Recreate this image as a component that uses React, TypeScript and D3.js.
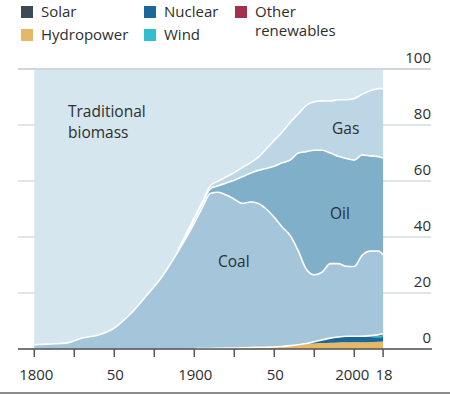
import React from "react";
import * as d3 from "d3";

const years = [1800,1810,1820,1830,1840,1850,1860,1870,1880,1890,1900,1905,1910,1915,1920,1925,1930,1935,1940,1945,1950,1955,1960,1965,1970,1975,1980,1985,1990,1995,2000,2005,2010,2015,2018];

const hydro = [0,0,0,0,0,0,0,0,0,0,0.1,0.15,0.2,0.25,0.3,0.35,0.4,0.5,0.6,0.65,0.7,0.9,1.2,1.5,1.8,2.0,2.1,2.2,2.3,2.4,2.4,2.4,2.5,2.6,2.7];
const nuclear = [0,0,0,0,0,0,0,0,0,0,0,0,0,0,0,0,0,0,0,0,0,0,0,0.02,0.15,0.6,1.1,1.6,1.9,2.0,2.0,1.9,1.8,1.6,1.6];
const wind = [0,0,0,0,0,0,0,0,0,0,0,0,0,0,0,0,0,0,0,0,0,0,0,0,0,0,0,0,0,0.01,0.03,0.08,0.25,0.5,0.65];
const solar = [0,0,0,0,0,0,0,0,0,0,0,0,0,0,0,0,0,0,0,0,0,0,0,0,0,0,0,0,0,0,0,0.005,0.04,0.2,0.3];
const other = [0,0,0,0,0,0,0,0,0,0,0,0,0,0,0,0,0,0,0,0,0,0,0,0,0,0,0.05,0.08,0.1,0.12,0.13,0.15,0.18,0.2,0.2];
const coal = [1.5,1.8,2.1,3.9,5.0,7.5,12.5,19,26,35,44.9,50.35,55.3,55.75,54.7,53.15,51.6,52.0,51.4,49.35,46.3,42.6,39.3,33.5,26.55,23.9,24.25,26.6,26.2,25.0,24.9,29.0,30.2,29.9,28.15];
const oil = [0,0,0,0,0,0,0,0,0,0.3,1.2,1.3,1.7,2.3,4.3,6.8,9.5,10.3,11.8,14.5,18.3,23,27,35,42,44.5,43.5,39.5,38.3,38.5,38,35.8,34,33.7,34.6];
const gas = [0,0,0,0,0,0,0,0,0,0.2,0.8,0.8,1.1,1.7,2.2,2.7,3.3,3.7,4.7,7,9.2,11,13.5,14,16.5,17.3,17.6,18.6,20.2,21,22,21.7,23.3,24.3,24.8];
const biomass = [98.5,98.2,97.9,96.1,95,92.5,87.5,81,74,64.5,53,47.4,41.7,40,38.5,37,35.2,33.5,31.5,28.5,25.5,22.5,19,16,13,11.7,11.4,11.4,11,11,10.5,9,7.7,7,7];

const xTicks = [1800,1825,1850,1875,1900,1925,1950,1975,2000,2018];
const xTickLabels = ["1800","","50","","1900","","50","","2000","18"];
const yTicks = [0,20,40,60,80,100];

const keys = ["hydro","nuclear","wind","solar","other","coal","oil","gas","biomass"];
const colors: Record<string,string> = {
  hydro: "#e6b767",
  nuclear: "#1b6898",
  wind: "#33bdd0",
  solar: "#3c4a54",
  other: "#a3304c",
  coal: "#a5c6da",
  oil: "#7fafc9",
  gas: "#bcd6e5",
  biomass: "#d5e6ef",
};

const legend = [
  { key: "solar", label: ["Solar"], x: 21, y: 6 },
  { key: "nuclear", label: ["Nuclear"], x: 144, y: 6 },
  { key: "other", label: ["Other", "renewables"], x: 235, y: 6 },
  { key: "hydro", label: ["Hydropower"], x: 21, y: 29 },
  { key: "wind", label: ["Wind"], x: 144, y: 29 },
];

const seriesLabels = [
  { text: ["Traditional", "biomass"], x: 68, y: 117 },
  { text: ["Coal"], x: 218, y: 267 },
  { text: ["Oil"], x: 330, y: 219 },
  { text: ["Gas"], x: 332, y: 134 },
];

const FONT = "'Open Sans', 'Noto Sans', sans-serif";

export default function App() {
  const W = 450, H = 394;
  const x = d3.scaleLinear().domain([1800, 2018]).range([34.3, 383.1]);
  const y = d3.scaleLinear().domain([0, 100]).range([349, 69]);

  const data = years.map((yr, i) => ({
    year: yr,
    hydro: hydro[i], nuclear: nuclear[i], wind: wind[i], solar: solar[i], other: other[i],
    coal: coal[i], oil: oil[i], gas: gas[i], biomass: biomass[i],
  }));
  const stacked = d3.stack<any>().keys(keys)(data);

  const area = d3.area<any>()
    .x((d) => x(d.data.year))
    .y0((d) => y(d[0]))
    .y1((d) => y(d[1]))
    .curve(d3.curveMonotoneX);
  const topLine = d3.line<any>()
    .x((d) => x(d.data.year))
    .y((d) => y(d[1]))
    .curve(d3.curveMonotoneX);

  const lineKeys = ["other", "coal", "oil", "gas"];
  const textColor = "#2e2e2e";

  return (
    <svg width={W} height={H} style={{ position: "absolute", left: 0, top: 0, background: "#fff" }} fontFamily={FONT}>
      {yTicks.map((t) => (
        <line key={t} x1={18} x2={431} y1={y(t)} y2={y(t)} stroke="#c4c9cc" strokeWidth={1.2} />
      ))}
      {stacked.map((s) => (
        <path key={s.key} d={area(s as any) || ""} fill={colors[s.key]} />
      ))}
      {stacked.filter((s) => lineKeys.includes(s.key)).map((s) => {
        const pts = s.key === "other" ? (s as any[]).filter((d: any) => d.data.year >= 1895) :
          s.key === "oil" || s.key === "gas" ? (s as any[]).filter((d: any) => d.data.year >= 1890) : (s as any[]);
        return <path key={"l" + s.key} d={topLine(pts) || ""} fill="none" stroke="#fff" strokeWidth={1.6} />;
      })}
      <line x1={18} x2={431} y1={y(100)} y2={y(100)} stroke="#c4c9cc" strokeWidth={1.2} />
      <line x1={18} x2={432} y1={y(0)} y2={y(0)} stroke="#555" strokeWidth={1.5} />
      {xTicks.map((t, i) => (
        <g key={t}>
          <line x1={x(t)} x2={x(t)} y1={y(0)} y2={y(0) + 8} stroke="#555" strokeWidth={1.5} />
          {xTickLabels[i] && (
            <text x={x(t) + (t === 2000 ? -2 : t === 1800 ? 2 : 1)} y={380} textAnchor="middle" fontSize={15} fill={textColor}>
              {xTickLabels[i]}
            </text>
          )}
        </g>
      ))}
      {yTicks.map((t) => (
        <text key={"yl" + t} x={431} y={y(t) - 6} textAnchor="end" fontSize={15} fill={textColor}>{t}</text>
      ))}
      {seriesLabels.map((l, i) => (
        <text key={"sl" + i} x={l.x} y={l.y} fontSize={15.5} fill={textColor}>
          {l.text.map((t, j) => (
            <tspan key={j} x={l.x} dy={j === 0 ? 0 : 21}>{t}</tspan>
          ))}
        </text>
      ))}
      {legend.map((l) => (
        <g key={"lg" + l.key}>
          <rect x={l.x} y={l.y} width={12} height={12} fill={colors[l.key]} />
          {l.label.map((t, j) => (
            <text key={j} x={l.x + 20} y={l.y + (j === 0 ? 11 : 30)} fontSize={15} fill={textColor}>{t}</text>
          ))}
        </g>
      ))}
      <line x1={0} x2={W} y1={393} y2={393} stroke="#666" strokeWidth={1.5} />
    </svg>
  );
}
